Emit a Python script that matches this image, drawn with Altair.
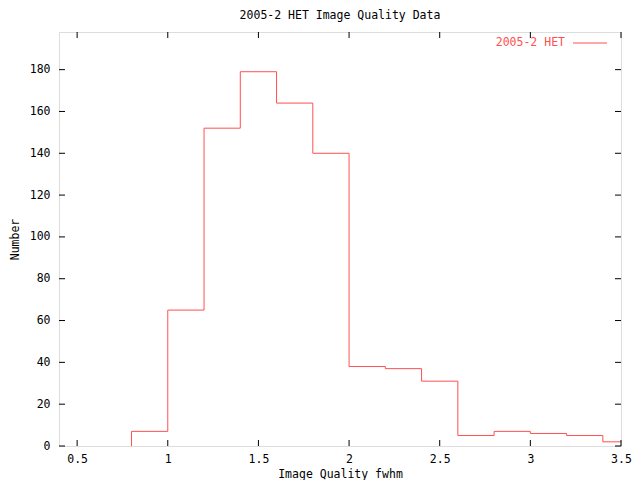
import altair as alt
import pandas as pd

# Histogram data (bin left edges, width 0.2)
bin_left = [0.8, 1.0, 1.2, 1.4, 1.6, 1.8, 2.0, 2.2, 2.4, 2.6, 2.8, 3.0, 3.2, 3.4]
counts = [7, 65, 152, 179, 164, 140, 38, 37, 31, 5, 7, 6, 5, 2]
bin_width = 0.2

x_ticks = [0.5, 1.0, 1.5, 2.0, 2.5, 3.0, 3.5]
y_ticks = [0, 20, 40, 60, 80, 100, 120, 140, 160, 180]

series_name = "2005-2 HET"
title_text = "2005-2 HET Image Quality Data"

# step path: start at baseline, then each bin level, then last bin end
rows = [{"x": bin_left[0], "y": 0, "o": 0}]
for i, (b, c) in enumerate(zip(bin_left, counts)):
    rows.append({"x": b, "y": c, "o": i + 1})
rows.append({"x": bin_left[-1] + bin_width, "y": counts[-1], "o": len(bin_left) + 1})
df = pd.DataFrame(rows)

W, H = 562, 414
FONT = "DejaVu Sans Mono"
FS = 11.5
RED = "#ff5050"
TICK = 6

xscale = alt.Scale(domain=[0.4, 3.5], nice=False, zero=False)
yscale = alt.Scale(domain=[0, 198], nice=False)

label_expr = "datum.value == 1 ? '1' : datum.value == 2 ? '2' : datum.value == 3 ? '3' : format(datum.value, '.1f')"

line = alt.Chart(df).mark_line(
    interpolate="step-after", color=RED, strokeWidth=1, clip=True
).encode(
    x=alt.X("x:Q", scale=xscale,
            axis=alt.Axis(values=x_ticks, tickSize=0, domain=False, grid=False,
                          labelExpr=label_expr, labelFont=FONT, labelFontSize=FS,
                          labelColor="black", labelPadding=7, labelFlush=False,
                          title="Image Quality fwhm", titleFont=FONT, titleFontSize=FS,
                          titleFontWeight="normal", titleColor="black",
                          titleY=28, titleBaseline="middle")),
    y=alt.Y("y:Q", scale=yscale,
            axis=alt.Axis(values=y_ticks, tickSize=0, domain=False, grid=False,
                          labelFont=FONT, labelFontSize=FS, labelColor="black",
                          labelPadding=9,
                          title="Number", titleFont=FONT, titleFontSize=FS,
                          titleFontWeight="normal", titleColor="black",
                          titleX=-44, titleY=H / 2, titleBaseline="middle")),
    order="o:Q",
)

xt = pd.DataFrame({"v": x_ticks})
yt = pd.DataFrame({"v": y_ticks})

xticks_bottom = alt.Chart(xt).mark_rule(color="black", strokeWidth=1).encode(
    x=alt.X("v:Q", scale=xscale), y=alt.value(H), y2=alt.value(H - TICK))
xticks_top = alt.Chart(xt).mark_rule(color="black", strokeWidth=1).encode(
    x=alt.X("v:Q", scale=xscale), y=alt.value(0), y2=alt.value(TICK))
yticks_left = alt.Chart(yt).mark_rule(color="black", strokeWidth=1).encode(
    y=alt.Y("v:Q", scale=yscale), x=alt.value(0), x2=alt.value(TICK))
yticks_right = alt.Chart(yt).mark_rule(color="black", strokeWidth=1).encode(
    y=alt.Y("v:Q", scale=yscale), x=alt.value(W), x2=alt.value(W - TICK))

legend_text = alt.Chart(pd.DataFrame({"t": [series_name]})).mark_text(
    font=FONT, fontSize=FS, color=RED, align="right", baseline="middle"
).encode(text="t:N", x=alt.value(506), y=alt.value(11))
legend_line = alt.Chart(pd.DataFrame({"t": [series_name]})).mark_rule(
    color=RED, strokeWidth=1
).encode(x=alt.value(514), x2=alt.value(548), y=alt.value(11))

chart = alt.layer(
    line, xticks_bottom, xticks_top, yticks_left, yticks_right, legend_text, legend_line
).properties(
    width=W, height=H,
    title=alt.TitleParams(title_text, font=FONT, fontSize=FS, fontWeight="normal",
                          color="black", anchor="middle", offset=10),
    autosize=alt.AutoSizeParams(type="none"),
    padding={"left": 51, "top": 24, "right": 11, "bottom": 34},
).configure_view(
    stroke="black", strokeWidth=1
).configure(background="white")

chart.save("out.html", embed_options={"renderer": "svg", "actions": False})
